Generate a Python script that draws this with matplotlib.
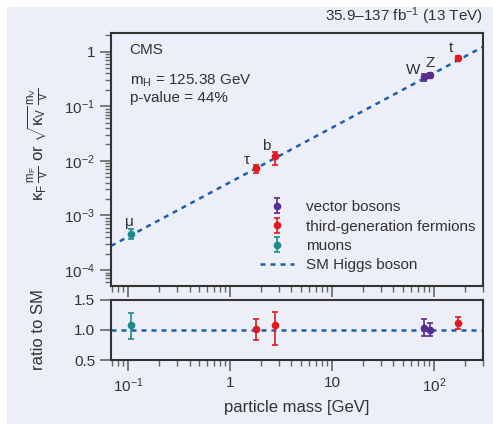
import matplotlib
matplotlib.use("Agg")
import matplotlib.pyplot as plt
import matplotlib.ticker as mticker
from matplotlib.patches import Rectangle
import numpy as np

plt.rcParams['font.family'] = ['Liberation Sans', 'DejaVu Sans']
plt.rcParams['mathtext.fontset'] = 'custom'
plt.rcParams['mathtext.rm'] = 'Liberation Sans'
plt.rcParams['mathtext.it'] = 'Liberation Sans:italic'
plt.rcParams['mathtext.bf'] = 'Liberation Sans:bold'

# 粒子数据 (质量 GeV, 与SM之比及其上下误差)
vev = 246.22
names = ['μ', 'τ', 'b', 'W', 'Z', 't']
mass = np.array([0.1057, 1.777, 2.76, 80.4, 91.2, 172.5])
ratio = np.array([1.08, 1.01, 1.09, 1.04, 0.995, 1.11])
ratio_up = np.array([1.29, 1.18, 1.30, 1.18, 1.11, 1.21])
ratio_lo = np.array([0.845, 0.83, 0.745, 0.895, 0.895, 1.01])
group = ['muon', 'ferm', 'ferm', 'vec', 'vec', 'ferm']

colors = {'vec': '#5b2c8f', 'ferm': '#e3191f', 'muon': '#1d8b8b'}
labels = {'vec': 'vector bosons', 'ferm': 'third-generation fermions', 'muon': 'muons'}
line_col = '#1f5fa8'
bg = '#eceef8'
txt = '#333333'

# 标签偏移 (points)
name_off = [(-1, 3), (-6, 1), (-6, 2), (-8, 0), (0, 4), (-5, 2)]

fig = plt.figure(figsize=(4.93, 4.24), dpi=100)
fig.patch.set_facecolor('white')
fig.patches.append(Rectangle((7 / 493, 0), 1, 1 - 7 / 424, transform=fig.transFigure,
                             facecolor=bg, edgecolor='none', zorder=-10))

ax = fig.add_axes([0.2252, 0.3255, 0.7545, 0.5967])
axr = fig.add_axes([0.2252, 0.1509, 0.7545, 0.1416], sharex=ax)

xlim = (0.068, 302)
xs = np.array(xlim)
ax.plot(xs, xs / vev, color=line_col, lw=1.8, ls=(0, (2, 2)), label='SM Higgs boson', zorder=2)
axr.plot(xs, [1, 1], color=line_col, lw=1.8, ls=(0, (2, 2)), zorder=2)

done = set()
for i in range(len(mass)):
    g = group[i]
    c = colors[g]
    sm = mass[i] / vev
    y = ratio[i] * sm
    yerr = [[(ratio[i] - ratio_lo[i]) * sm], [(ratio_up[i] - ratio[i]) * sm]]
    lab = labels[g] if g not in done else None
    done.add(g)
    ax.errorbar(mass[i], y, yerr=yerr, fmt='o', color=c, ms=4.5, capsize=2.5,
                elinewidth=1.2, capthick=1.2, label=lab, zorder=3)
    axr.errorbar(mass[i], ratio[i], yerr=[[ratio[i] - ratio_lo[i]], [ratio_up[i] - ratio[i]]],
                 fmt='o', color=c, ms=4.5, capsize=2.5, elinewidth=1.2, capthick=1.2, zorder=3)
    ax.annotate(names[i], (mass[i], y), xytext=name_off[i], textcoords='offset points',
                ha='center', va='bottom', fontsize=11, color=txt)

for a in (ax, axr):
    a.set_facecolor(bg)
    a.set_xscale('log')
    for s in a.spines.values():
        s.set_color(txt)
        s.set_linewidth(1.5)
    a.tick_params(which='major', direction='out', length=8, width=1.2, color='#666666',
                  labelsize=11, labelcolor=txt, top=False, right=False)
    a.tick_params(which='minor', direction='out', length=4.5, width=1, color='#666666',
                  top=False, right=False)

ax.set_xlim(*xlim)
ax.set_yscale('log')
ax.set_ylim(5.1e-5, 2.2)
ax.yaxis.set_major_locator(mticker.LogLocator(base=10, numticks=10))
ax.yaxis.set_minor_locator(mticker.LogLocator(base=10, subs=np.arange(2, 10), numticks=10))
ax.yaxis.set_major_formatter(mticker.FuncFormatter(
    lambda v, p: '1' if abs(v - 1) < 1e-9 else r'$10^{%d}$' % round(np.log10(v))))
ax.tick_params(axis='x', which='both', labelbottom=False)

axr.set_ylim(0.5, 1.5)
axr.set_yticks([0.5, 1.0, 1.5])
axr.yaxis.set_major_formatter(mticker.FormatStrFormatter('%.1f'))
axr.xaxis.set_major_formatter(mticker.FuncFormatter(
    lambda v, p: {0.1: r'$10^{-1}$', 1: '1', 10: '10', 100: r'$10^{2}$'}.get(round(v, 3), '')))

ax.set_ylabel(r'$\mathrm{κ_F}\,\frac{\mathrm{m_F}}{\mathrm{v}}$ or '
              r'$\sqrt{\mathrm{κ_V}}\,\frac{\mathrm{m_V}}{\mathrm{v}}$',
              fontsize=12, color=txt)
axr.set_ylabel('ratio to SM', fontsize=12, color=txt)
axr.set_xlabel('particle mass [GeV]', fontsize=12, color=txt)
ax.yaxis.set_label_coords(-0.165, 0.56)
axr.yaxis.set_label_coords(-0.175, 0.5)

ax.text(0.05, 0.96, 'CMS', transform=ax.transAxes, fontsize=11, color=txt, va='top')
ax.text(0.05, 0.845, r'm$_\mathrm{H}$ = 125.38 GeV', transform=ax.transAxes,
        fontsize=11, color=txt, va='top')
ax.text(0.05, 0.77, 'p-value = 44%', transform=ax.transAxes, fontsize=11, color=txt, va='top')
ax.text(1.0, 1.025, r'35.9–137 fb$^{-1}$ (13 TeV)', transform=ax.transAxes,
        fontsize=11, color=txt, ha='right', va='bottom')

h, l = ax.get_legend_handles_labels()
order = [l.index(k) for k in ['vector bosons', 'third-generation fermions', 'muons', 'SM Higgs boson']]
ax.legend([h[k] for k in order], [l[k] for k in order], loc='lower right',
          bbox_to_anchor=(1.017, 0.0), frameon=False, fontsize=11, labelcolor=txt,
          handlelength=2.2, labelspacing=0.35)

fig.savefig('out.png', dpi=100)
